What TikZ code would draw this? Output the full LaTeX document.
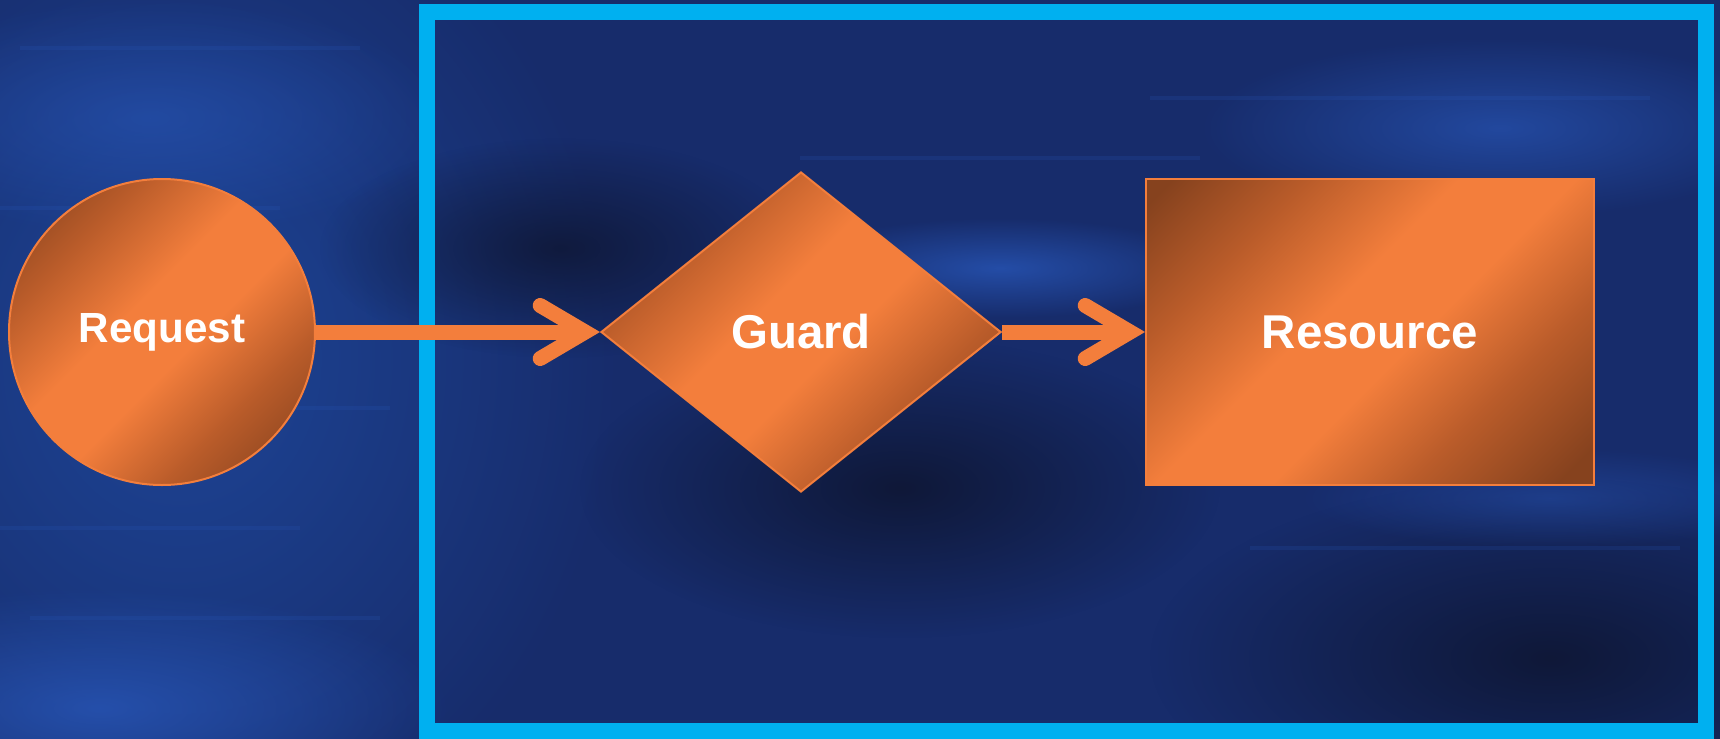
\documentclass[tikz,border=0pt]{standalone}
\usepackage{fontspec}
\setsansfont{Liberation Sans}
\usetikzlibrary{positioning, shapes.geometric, arrows.meta, fadings}

\definecolor{flowOrange}{HTML}{F37E3C}
\definecolor{flowMid}{HTML}{BA5C2A}
\definecolor{flowBrown}{HTML}{86421E}
\definecolor{laneCyan}{HTML}{00B0F0}
\definecolor{bgNavy}{HTML}{172C6B}
\definecolor{bgBlue}{HTML}{1E4597}
\definecolor{bgDeep}{HTML}{0F1838}
\definecolor{bgGlow}{HTML}{2A5BC0}

\pgfdeclareverticalshading{copperband}{100bp}{color(0bp)=(flowBrown); color(18bp)=(flowBrown); color(32bp)=(flowMid); color(45bp)=(flowOrange); color(56bp)=(flowOrange); color(70bp)=(flowMid); color(83bp)=(flowBrown); color(100bp)=(flowBrown)}
\tikzfading[name=softglow, inner color=transparent!0, outer color=transparent!100]

\begin{document}
\begin{tikzpicture}
                        \tikzset{
                            shape box/.style={
                                    draw=flowOrange, line width=0.2mm, shading=copperband, shading angle=45,
                                    inner sep=0pt, text=white, font=\sffamily\bfseries\fontsize{13.5}{16}\selectfont
                                },
                            disc/.style={shape box, circle, minimum size=3.06cm, font=\sffamily\bfseries\fontsize{12}{14}\selectfont},
                            gate/.style={shape box, diamond, minimum width=4.0cm, minimum height=3.2cm},
                            store/.style={shape box, rectangle, minimum width=4.48cm, minimum height=3.06cm},
                            flow/.style={
                                    draw=flowOrange, line width=1.5mm,
                                    -{Straight Barb[length=4.5mm, width=5.3mm, line cap=round, line join=miter]}
                                },
                            lane/.style={draw=laneCyan, line width=1.6mm},
                            blob/.style={path fading=softglow},
                            streak/.style={draw=bgGlow, line width=0.4mm, opacity=0.18}
                        }

                        % --- Hintergrund ---
                        \useasboundingbox (0,0) rectangle (17.2,7.38);
                        \clip (0,0) rectangle (17.2,7.38);
                        \fill[bgNavy] (-0.1,-0.1) rectangle (17.3,7.5);
                        \fill[bgBlue, blob] (1.8,3.8) ellipse (4.4 and 5.2);
                        \fill[bgGlow, blob, fill opacity=0.5] (1.5,6.2) ellipse (3.0 and 1.2);
                        \fill[bgGlow, blob, fill opacity=0.7] (1.0,0.3) ellipse (3.5 and 1.2);
                        \fill[bgDeep, blob, fill opacity=0.9] (5.6,4.9) ellipse (2.4 and 1.1);
                        \fill[bgDeep, blob] (9.0,2.5) ellipse (3.2 and 1.5);
                        \fill[bgDeep, blob] (15.5,0.8) ellipse (4.0 and 1.8);
                        \fill[bgGlow, blob, fill opacity=0.7] (10.0,4.7) ellipse (2.2 and 0.5);
                        \fill[bgGlow, blob, fill opacity=0.6] (15.0,6.1) ellipse (3.0 and 0.9);
                        \fill[bgGlow, blob, fill opacity=0.4] (15.5,2.4) ellipse (2.5 and 0.5);
                        % feine Schlieren
                        \foreach \y/\a/\b in {6.9/0.2/3.6, 5.3/0.0/2.8, 3.3/0.4/3.9, 2.1/0.0/3.0, 1.2/0.3/3.8, 6.4/11.5/16.5, 5.8/8.0/12.0, 1.9/12.5/16.8}
                            \draw[streak] (\a,\y) -- (\b,\y);

                        % --- Rahmen ---
                        \draw[lane] (4.27,0.07) rectangle (17.06,7.26);

                        % --- Knoten ---
                        \node[disc] (req) at (1.62,4.06) {Request};
                        \node[gate] (guard) at (8.01,4.06) {Guard};
                        \node[store] (res) at (13.70,4.06) {Resource};

                        \draw[flow] (req) -- (guard);
                        \draw[flow] (guard) -- (res);
                    \end{tikzpicture}
\end{document}
